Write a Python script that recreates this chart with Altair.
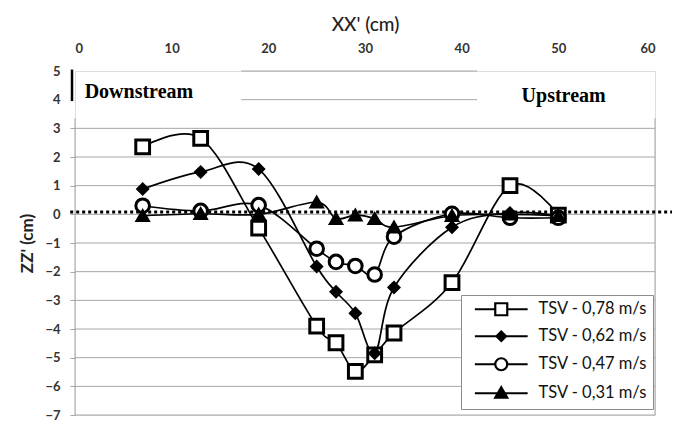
import altair as alt
import pandas as pd

# ---- data ----
x_pos = [7, 13, 19, 25, 27, 29, 31, 33, 39, 45, 50]
series_names = ["TSV - 0,78 m/s", "TSV - 0,62 m/s", "TSV - 0,47 m/s", "TSV - 0,31 m/s"]
tsv_078 = [2.35, 2.65, -0.48, -3.9, -4.48, -5.48, -4.9, -4.14, -2.38, 1.0, -0.03]
tsv_062 = [0.88, 1.48, 1.58, -1.82, -2.7, -3.45, -4.85, -2.55, -0.45, 0.05, -0.05]
tsv_047 = [0.3, 0.12, 0.32, -1.2, -1.66, -1.8, -2.1, -0.78, 0.02, -0.12, -0.12]
tsv_031 = [-0.05, 0.02, 0.0, 0.42, -0.15, -0.03, -0.15, -0.45, -0.05, 0.0, -0.05]
all_series = [tsv_078, tsv_062, tsv_047, tsv_031]

x_ticks = [0, 10, 20, 30, 40, 50, 60]
y_ticks = [-7, -6, -5, -4, -3, -2, -1, 0, 1, 2, 3, 4, 5]
grid_full = [-7, -6, -5, -4, -3, -2, -1, 0, 1, 2, 3]
grid_partial = [4, 5]
partial_x = [17.2, 41.6]
frame_x = [0, 60]
frame_y = [3.35, -7]
bar_y = [5.05, 3.95]
ref_level = 0.08
ref_x = [-0.5, 62.3]
note_text = ["Downstream", "Upstream"]
note_x = [1.0, 46.2]
note_y = [4.07, 3.93]

marker_shapes = ["square", "diamond", "circle", "triangle-up"]
marker_fills = ["white", "black", "white", "black"]
marker_strokes = ["black", "black", "black", "black"]
marker_sizes = [190, 95, 185, 120]
legend_paths = [
    "M-4.4,0H-1M1,0H4.4M-1,-1H1V1H-1Z",
    "M-4.4,0H4.4M0,-0.8L0.8,0L0,0.8L-0.8,0Z",
    "M-4.4,0H-1M1,0H4.4M1,0A1,1,0,1,1,-1,0A1,1,0,1,1,1,0Z",
    "M-4.4,0H4.4M0,-1L1,0.75H-1Z",
]

rows = []
for name, vals in zip(series_names, all_series):
    for xv, yv in zip(x_pos, vals):
        rows.append({"series": name, "x": xv, "y": yv})
df = pd.DataFrame(rows)

FONT = "Lato"
GRID = "#a6a6a6"

xscale = alt.Scale(domain=[0, 60], nice=False, zero=False)
yscale = alt.Scale(domain=[-7, 5], nice=False, zero=False)

x_axis = alt.Axis(orient="top", values=x_ticks, domain=False, ticks=False, grid=False,
                  labelFont=FONT, labelFontSize=13, labelFontWeight="bold", labelColor="#333",
                  labelPadding=16, title="XX' (cm)", titleFont=FONT, titleFontSize=19,
                  titleFontWeight=500, titleColor="#222", titlePadding=8)
y_axis = alt.Axis(values=y_ticks, domain=False, grid=False, tickSize=5, tickColor=GRID,
                  tickOpacity={"condition": {"test": "datum.value > 3", "value": 0}, "value": 1},
                  labelFont=FONT, labelFontSize=13, labelFontWeight="bold", labelColor="#333",
                  labelPadding=10, title="ZZ' (cm)", titleFont=FONT, titleFontSize=17,
                  titleFontWeight="bold", titleColor="#222", titlePadding=8)


def X(field):
    return alt.X(field, scale=xscale, axis=x_axis)


def Y(field):
    return alt.Y(field, scale=yscale, axis=y_axis)


def XD(v):
    return alt.XDatum(v, scale=xscale, axis=x_axis)


def YD(v):
    return alt.YDatum(v, scale=yscale, axis=y_axis)


base = alt.Chart(df)

grid_df = pd.DataFrame({"y": grid_full})
grid_layer = alt.Chart(grid_df).mark_rule(color=GRID, strokeWidth=1).encode(
    y=Y("y:Q"), x=XD(frame_x[0]), x2=alt.X2Datum(frame_x[1]))
pgrid_df = pd.DataFrame({"y": grid_partial})
pgrid_layer = alt.Chart(pgrid_df).mark_rule(color=GRID, strokeWidth=1).encode(
    y=Y("y:Q"), x=XD(partial_x[0]), x2=alt.X2Datum(partial_x[1]))
frame_df = pd.DataFrame({"x": frame_x})
frame_layer = alt.Chart(frame_df).mark_rule(color=GRID, strokeWidth=1).encode(
    x=X("x:Q"), y=YD(frame_y[0]), y2=alt.Y2Datum(frame_y[1]))
bar_df = pd.DataFrame({"x": [0]})
bar_layer = alt.Chart(bar_df).mark_rule(color="black", strokeWidth=2.5, xOffset=-3).encode(
    x=X("x:Q"), y=YD(bar_y[0]), y2=alt.Y2Datum(bar_y[1]))
ref_df = pd.DataFrame({"y": [ref_level]})
ref_layer = alt.Chart(ref_df).mark_rule(color="black", strokeWidth=3, strokeDash=[3, 3]).encode(
    y=Y("y:Q"), x=XD(ref_x[0]), x2=alt.X2Datum(ref_x[1]))
note_df = pd.DataFrame({"t": note_text, "x": note_x, "y": note_y})
note_layer = alt.Chart(note_df).mark_text(align="left", baseline="alphabetic",
                                          font="Liberation Serif", fontWeight="bold",
                                          fontSize=20, color="black").encode(
    x=X("x:Q"), y=Y("y:Q"), text="t:N")

line_layer = base.mark_line(interpolate="cardinal", color="black", strokeWidth=1.7).encode(
    x=X("x:Q"), y=Y("y:Q"), detail="series:N")

point_layers = []
for name, shp, fll, sz in zip(series_names, marker_shapes, marker_fills, marker_sizes):
    point_layers.append(
        base.transform_filter(alt.datum.series == name).mark_point(
            shape=shp, fill=fll, filled=True, stroke="black", strokeWidth=3,
            size=sz, opacity=1).encode(x=X("x:Q"), y=Y("y:Q"))
    )

legend_def = alt.Legend(title=None, orient="none", legendX=386, legendY=224,
                        padding=6, fillColor="white", strokeColor="#8c8c8c",
                        symbolSize=144, symbolStrokeWidth=2.2,
                        symbolStrokeColor="black", symbolOpacity=1,
                        symbolOffset=26, labelOffset=29, rowPadding=7,
                        labelFont=FONT, labelFontSize=16.5, labelColor="#111")

legend_layer = base.transform_filter("false").mark_point(
    opacity=1, strokeWidth=2.2, filled=True).encode(
    x=X("x:Q"), y=Y("y:Q"),
    shape=alt.Shape("series:N", scale=alt.Scale(domain=series_names, range=legend_paths),
                    legend=legend_def),
    fill=alt.Fill("series:N", scale=alt.Scale(domain=series_names, range=marker_fills),
                  legend=legend_def),
    stroke=alt.Stroke("series:N", scale=alt.Scale(domain=series_names, range=marker_strokes),
                      legend=legend_def),
)

chart = alt.layer(
    grid_layer, pgrid_layer, frame_layer, bar_layer, ref_layer, note_layer,
    line_layer, *point_layers, legend_layer,
).properties(
    width=580, height=344,
    autosize=alt.AutoSizeParams(type="none"),
    padding={"left": 67, "top": 63, "right": 17, "bottom": 8},
).configure_view(stroke=None).configure(background="white")

chart.save("out.html", embed_options={"renderer": "svg", "actions": False})
